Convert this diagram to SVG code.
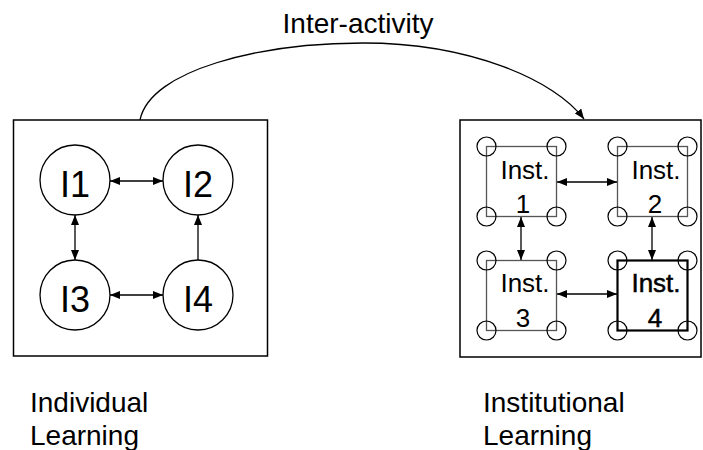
<svg xmlns="http://www.w3.org/2000/svg" width="703" height="450" viewBox="0 0 703 450">
  <style>
    text { font-family: "Liberation Sans", Arial, sans-serif; fill: #000; }
    .frame { fill: #fff; stroke: #000; stroke-width: 1.5; }
    .person { fill: #fff; stroke: #000; stroke-width: 1.3; }
    .plabel { font-size: 36px; text-anchor: middle; }
    .inst { fill: none; stroke: #555; stroke-width: 1.3; }
    .inst.strong { stroke: #000; stroke-width: 2.2; }
    .corner { fill: none; stroke: #000; stroke-width: 1.2; }
    .ilabel { font-size: 26px; text-anchor: middle; }
    .ilabel.strong { stroke: #000; stroke-width: 0.5; }
    .caption { font-size: 28px; }
    .link { fill: none; stroke: #000; stroke-width: 1.3; }
    .both { marker-start: url(#head); marker-end: url(#head); }
    .one { marker-end: url(#head); }
  </style>
  <defs>
    <marker id="head" viewBox="0 0 10 8" refX="10" refY="4" markerWidth="10" markerHeight="8" markerUnits="userSpaceOnUse" orient="auto-start-reverse">
      <path d="M0,0 L10,4 L0,8 z" fill="#000"/>
    </marker>
    <circle id="c" r="9.5"/>
  </defs>

  <!-- left panel: individual learners -->
  <g id="individual-panel">
    <rect class="frame" x="13.5" y="120" width="254" height="236"/>
  </g>
  <g id="I1"><circle class="person" cx="75" cy="180" r="35"/><text class="plabel" x="75" y="196.5">I1</text></g>
  <g id="I2"><circle class="person" cx="198" cy="180" r="35"/><text class="plabel" x="198" y="196.5">I2</text></g>
  <g id="I3"><circle class="person" cx="75" cy="295" r="35"/><text class="plabel" x="75" y="311.5">I3</text></g>
  <g id="I4"><circle class="person" cx="198" cy="295" r="35"/><text class="plabel" x="198" y="311.5">I4</text></g>

  <!-- right panel: institutions -->
  <g id="institutional-panel">
    <rect class="frame" x="460" y="120" width="241" height="237"/>
  </g>
  <g id="inst1">
    <rect class="inst" x="486.5" y="146.5" width="70" height="70"/>
    <g class="corner"><use href="#c" x="486.5" y="146.5"/><use href="#c" x="556.5" y="146.5"/><use href="#c" x="486.5" y="216.5"/><use href="#c" x="556.5" y="216.5"/></g>
    <text class="ilabel" x="525" y="179">Inst.</text><text class="ilabel" x="523" y="213">1</text>
  </g>
  <g id="inst2">
    <rect class="inst" x="617.5" y="146.5" width="70" height="70"/>
    <g class="corner"><use href="#c" x="617.5" y="146.5"/><use href="#c" x="687.5" y="146.5"/><use href="#c" x="617.5" y="216.5"/><use href="#c" x="687.5" y="216.5"/></g>
    <text class="ilabel" x="656" y="179">Inst.</text><text class="ilabel" x="655" y="213">2</text>
  </g>
  <g id="inst3">
    <rect class="inst" x="486.5" y="260.5" width="70" height="70"/>
    <g class="corner"><use href="#c" x="486.5" y="260.5"/><use href="#c" x="556.5" y="260.5"/><use href="#c" x="486.5" y="330.5"/><use href="#c" x="556.5" y="330.5"/></g>
    <text class="ilabel" x="525" y="292">Inst.</text><text class="ilabel" x="523" y="327">3</text>
  </g>
  <g id="inst4">
    <rect class="inst strong" x="617.5" y="260.5" width="70" height="70"/>
    <g class="corner"><use href="#c" x="617.5" y="260.5"/><use href="#c" x="687.5" y="260.5"/><use href="#c" x="617.5" y="330.5"/><use href="#c" x="687.5" y="330.5"/></g>
    <text class="ilabel strong" x="656" y="292">Inst.</text><text class="ilabel strong" x="655" y="327">4</text>
  </g>

  <!-- captions -->
  <g id="captions">
    <text class="caption" x="358" y="33" text-anchor="middle">Inter-activity</text>
    <text class="caption" x="30" y="412">Individual</text>
    <text class="caption" x="30" y="445">Learning</text>
    <text class="caption" x="483" y="412">Institutional</text>
    <text class="caption" x="483" y="445">Learning</text>
  </g>

  <!-- connectors -->
  <g id="connectors">
    <path class="link both" d="M110,181 H163"/>
    <path class="link both" d="M110,295 H163"/>
    <path class="link both" d="M75,215 V260"/>
    <path class="link one" d="M198,260 V215"/>
    <path class="link both" d="M557,182 H617"/>
    <path class="link both" d="M557,294 H617"/>
    <path class="link both" d="M521,217 V260"/>
    <path class="link both" d="M652,217 V260"/>
    <path class="link one" d="M140,120 C150,70 260,43 363,43 C470,43 555,80 584,119"/>
  </g>
</svg>
